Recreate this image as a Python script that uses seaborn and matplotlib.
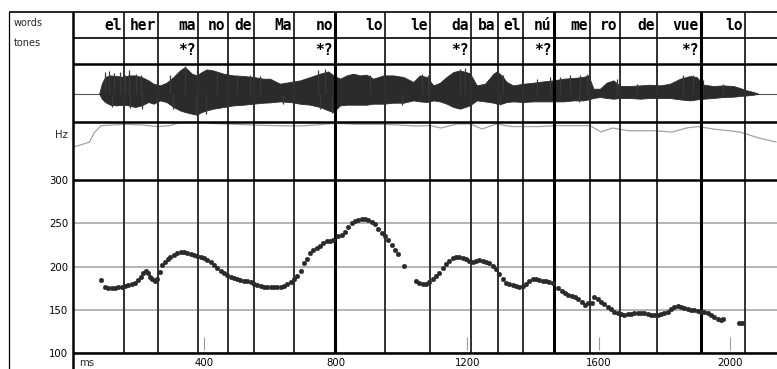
import matplotlib
matplotlib.use("Agg")
import matplotlib.pyplot as plt
from matplotlib.lines import Line2D
import pandas as pd
import seaborn as sns

sns.set_style("white")
plt.rcParams["font.family"] = ["DejaVu Sans"]

# ---------------- data ----------------
words = ["el", "her", "ma", "no", "de", "Ma", "no", "lo", "le", "da", "ba",
         "el", "nú", "me", "ro", "de", "vue", "lo"]
word_ends = [156, 260, 381, 471, 552, 673, 798, 949, 1086, 1211, 1294,
             1371, 1464, 1575, 1664, 1777, 1911, 2046]
major_bounds = [798, 1464, 1911]
tone_labels = ["*?", "*?", "*?", "*?", "*?"]
tone_ends = [381, 798, 1211, 1464, 1911]

f0_ms = [86, 98, 108, 118, 128, 138, 148, 158, 169, 179, 189, 199, 207, 214, 221,
         228, 235, 242, 250, 257, 265, 272, 280, 288, 297, 308, 318, 328, 338, 348,
         358, 368, 379, 389, 399, 409, 419, 429, 440, 450, 460, 470, 480, 490, 500,
         510, 521, 531, 541, 551, 561, 571, 581, 592, 602, 612, 622, 632, 642, 652,
         663, 673, 683, 693, 703, 711, 721, 732, 742, 752, 762, 772, 782, 793,
         808, 818, 828, 838, 848, 858, 869, 879, 889, 899, 909, 919, 930, 940, 950,
         960, 970, 980, 990, 1008,
         1044, 1054, 1064, 1075, 1085, 1095, 1105, 1115, 1125, 1135, 1146, 1156, 1166,
         1176, 1186, 1196, 1206, 1217, 1227, 1237, 1247, 1257, 1267, 1277, 1288, 1298,
         1308, 1318, 1328, 1338, 1348, 1359, 1369, 1379, 1389, 1399, 1409, 1419, 1430,
         1440, 1450, 1460,
         1477, 1487, 1498, 1508, 1518, 1528, 1538, 1548, 1558, 1569, 1579, 1587, 1597,
         1607, 1617, 1627, 1638, 1648, 1658, 1668, 1678, 1688, 1698, 1709, 1719, 1729,
         1739, 1749, 1759, 1769, 1780, 1790, 1800, 1810, 1820, 1830, 1840, 1851, 1861,
         1871, 1881, 1891, 1901, 1911, 1922, 1932, 1942, 1952, 1962, 1972, 1979,
         2028, 2035]
f0_hz = [184.6, 177.0, 175.8, 175.0, 175.8, 176.2, 177.0, 177.7, 178.9, 180.0, 181.6,
         184.6, 187.7, 192.3, 194.6, 193.0, 187.7, 185.4, 183.0, 185.4, 193.9, 201.5,
         205.8, 208.4, 211.5, 213.8, 216.0, 216.9, 216.9, 216.0, 214.6, 213.4, 212.7,
         211.5, 210.0, 207.7, 205.0, 201.5, 198.0, 195.0, 192.3, 190.4, 188.5, 187.3,
         186.2, 185.0, 183.9, 183.1, 182.0, 180.0, 178.5, 177.3, 176.6, 176.2, 176.2,
         176.2, 176.2, 176.6, 177.7, 180.0, 182.3, 185.4, 189.2, 195.4, 204.6, 209.2,
         215.4, 219.2, 221.5, 223.8, 227.6, 229.2, 229.6, 230.7,
         234.6, 236.5, 240.3, 245.3, 249.9, 252.2, 253.8, 254.5, 254.5, 253.8, 251.8,
         248.8, 243.0, 239.2, 235.3, 230.7, 225.0, 219.2, 214.6, 200.8,
         183.9, 180.8, 179.6, 180.0, 182.7, 185.8, 189.2, 193.1, 198.0, 203.0, 206.9,
         209.6, 210.8, 211.5, 210.0, 208.4, 206.9, 205.4, 206.9, 207.7, 206.5, 205.4,
         203.8, 200.8, 196.9, 191.6, 185.4, 181.6, 180.0, 178.9, 177.7, 177.0, 177.3,
         180.0, 183.1, 186.2, 186.2, 184.6, 183.9, 183.1, 182.3, 180.8,
         175.0, 172.4, 170.0, 167.7, 166.2, 164.7, 162.4, 159.3, 156.2, 157.8, 158.5,
         164.7, 162.4, 159.7, 157.0, 153.9, 150.8, 148.2, 146.2, 145.1, 144.7, 145.1,
         145.9, 146.2, 147.0, 147.0, 146.2, 145.1, 144.3, 144.3, 144.3, 145.1, 146.2,
         147.8, 150.8, 153.1, 154.7, 153.9, 152.0, 150.8, 150.0, 150.0, 149.3, 148.2,
         147.8, 147.0, 144.3, 141.6, 139.3, 138.6, 140.0,
         134.7, 134.7]

wave_ms = [80, 88, 98, 113, 133, 154, 169, 189, 209, 230, 245, 265, 285, 306, 326,
           341, 362, 377, 392, 407, 427, 458, 488, 519, 549, 580, 600, 630, 661, 691,
           722, 752, 777, 793, 813, 833, 853, 874, 894, 914, 945, 975, 1006, 1036,
           1056, 1077, 1097, 1117, 1137, 1158, 1178, 1208, 1229, 1254, 1280, 1290,
           1305, 1320, 1340, 1371, 1401, 1432, 1462, 1493, 1523, 1553, 1569, 1584,
           1604, 1624, 1645, 1665, 1695, 1726, 1756, 1787, 1817, 1848, 1878, 1898,
           1919, 1949, 1979, 2010, 2030, 2051, 2071, 2086]
wave_top = [0, 10, 16.7, 18.3, 17.7, 16.7, 18.3, 18.3, 16.7, 13.3, 10, 8.3, 11, 16.7,
            23.3, 26.7, 20, 18.3, 21.7, 24.3, 23.3, 20, 18.3, 17.7, 16.7, 15, 15, 10,
            11.7, 13.3, 16.7, 20, 22.3, 18.3, 15, 18.3, 20, 18.3, 19, 15, 18.3, 18.3,
            16.7, 11.7, 18.3, 16.7, 8.3, 11, 16.7, 21.7, 23.3, 20.5, 8.3, 10, 20, 22.3,
            18.3, 11.7, 8.3, 10, 11, 12.3, 13.3, 15, 15.7, 16.7, 18.3, 5, 5, 11, 13.3,
            7.7, 7.7, 8.3, 9, 8.3, 10, 15, 17.7, 16.7, 9, 7.7, 8.3, 7.7, 5.7, 3.3, 1.7, 0]
wave_bot = [0, -5, -8.3, -11, -11.7, -11, -11.7, -13.3, -11.7, -8.3, -10, -6.7, -8.3,
            -13.3, -16.7, -18.3, -20, -21, -18.3, -16.7, -15, -13.3, -11.7, -11, -10,
            -9, -8.7, -7.7, -8.3, -10, -11, -13.3, -16.7, -18.3, -11.7, -11, -11, -11,
            -11, -10, -10, -9, -9, -6.7, -7.7, -8.3, -6.7, -7.7, -10, -13.3, -15, -11.7,
            -6.7, -7.7, -9, -10, -10, -8.3, -7.7, -8.3, -7.7, -7.7, -7.7, -7.7, -6.7,
            -6.7, -5.7, -4.3, -3.3, -4.3, -5, -4.3, -4.3, -5, -4.3, -4.3, -4.3, -5.7,
            -6.7, -5.7, -5, -4.3, -3.3, -3, -2.3, -1.7, -1, 0]

# individual waveform peaks that stick out of the envelope
spike_ms = [98, 111, 125, 143, 159, 172, 192, 206, 257, 296, 341, 377, 438, 468,
            498, 539, 569, 747, 767, 904, 1061, 1082, 1178, 1193, 1310, 1366, 1411,
            1452, 1482, 1513, 1543, 1564, 1655, 1716, 1777, 1858, 1888, 1919, 1979]
spike_top = [21.7, 22.3, 21, 21.7, 19, 23.3, 20, 19, 13.3, 18.3, 27.7, 23.3, 21.7,
             21.7, 19, 19, 17.7, 23.3, 25, 19, 20, 18.3, 25, 25.7, 18.3, 15, 15,
             16.7, 16.7, 18.3, 19, 20, 15, 10, 11, 18.3, 19, 13.3, 10]
dip_ms = [120, 175, 210, 255, 306, 375, 405, 640, 752, 790, 1000, 1300, 1540]
dip_bot = [-13, -14.3, -15, -11.7, -15, -21.7, -20, -10, -15, -19, -11, -11, -8.5]

int_ms = [2, 23, 51, 64, 86, 156, 210, 259, 296, 329, 378, 433, 545, 615, 682, 740,
          795, 865, 935, 989, 1044, 1087, 1120, 1169, 1211, 1245, 1288, 1336, 1418,
          1476, 1574, 1607, 1642, 1691, 1767, 1823, 1872, 1905, 1948, 2030, 2087, 2140]
int_val = [55.8, 59.3, 64.6, 80.5, 93.6, 95.9, 94.7, 91.9, 93.6, 100, 100, 97.2,
           94.7, 93.6, 92.9, 94.7, 97.7, 95.9, 95.9, 94.7, 92.9, 93.6, 89.4, 96.5,
           96.5, 87.6, 96.5, 91.9, 91.9, 93.6, 93.6, 82.3, 89.4, 84.6, 84.6, 82.3,
           90, 91.9, 87.6, 82.3, 71.7, 64.6]

x_ticks = [400, 800, 1200, 1600, 2000]
y_ticks = [100, 150, 200, 250, 300]

# ---------------- layout ----------------
W, H = 777, 369
fig = plt.figure(figsize=(W / 100, H / 100), dpi=100)
X0 = 72.9
XMAX = (W - X0) / 0.3286


def add(y0, y1):
    ax = fig.add_axes([X0 / W, 1 - y1 / H, (W - X0) / W, (y1 - y0) / H])
    ax.set_xlim(0, XMAX)
    for s in ax.spines.values():
        s.set_visible(False)
    ax.set_facecolor("white")
    return ax


ax_w = add(12, 38)
ax_t = add(38, 64)
ax_wave = add(64, 122)
ax_i = add(122, 179.7)
ax_f = add(179.7, 353.4)
panels = [ax_w, ax_t, ax_wave, ax_i, ax_f]
for ax in [ax_w, ax_t, ax_wave, ax_i]:
    ax.set_xticks([])
    ax.set_yticks([])

# boundaries
for ax in panels:
    for b in word_ends:
        if b in major_bounds:
            ax.axvline(b, color="black", lw=2.2, zorder=5)
        else:
            ax.axvline(b, color="#303030", lw=1.4, zorder=5)

# words tier
tr = ax_w.get_xaxis_transform()
for w, e in zip(words, word_ends):
    ax_w.text(e - 7, 0.3, w, transform=tr, ha="right", va="baseline",
              family="DejaVu Sans Mono", weight="bold", size=10.5, color="black")
ax_w.set_ylim(0, 1)

# tones tier
tr = ax_t.get_xaxis_transform()
for t, e in zip(tone_labels, tone_ends):
    ax_t.text(e - 8, 0.33, t, transform=tr, ha="right", va="baseline",
              family="DejaVu Sans Mono", weight="bold", size=10.5, color="black")

# waveform
ax_wave.set_ylim(-28.3, 29.7)
ax_wave.axhline(0, color="#555555", lw=0.8, zorder=1)
ax_wave.fill_between(wave_ms, wave_top, wave_bot, color="#2b2b2b", lw=0.6,
                     edgecolor="#2b2b2b", zorder=2)
ax_wave.vlines(spike_ms, 0, spike_top, color="#3a3a3a", lw=0.9, zorder=2)
ax_wave.vlines(dip_ms, dip_bot, 0, color="#3a3a3a", lw=0.9, zorder=2)

# intensity-like grey contour
df_i = pd.DataFrame({"ms": int_ms, "val": int_val})
sns.lineplot(data=df_i, x="ms", y="val", ax=ax_i, color="#a3a3a3", lw=0.9)
ax_i.set_ylim(-2.1, 100)
ax_i.set_xlim(0, XMAX)
ax_i.set_xlabel("")
ax_i.set_ylabel("")
ax_i.set_xticks([])
ax_i.set_yticks([])

# F0 panel
df_f = pd.DataFrame({"ms": f0_ms, "hz": f0_hz})
sns.scatterplot(data=df_f, x="ms", y="hz", ax=ax_f, s=11, color="#2a2a2a",
                edgecolor="#2a2a2a", linewidth=0.3, zorder=6)
ax_f.set_xlim(0, XMAX)
ax_f.set_ylim(100, 300)
ax_f.set_yticks(y_ticks)
ax_f.set_yticklabels([str(v) for v in y_ticks])
ax_f.set_xticks(x_ticks)
ax_f.set_xticklabels([str(v) for v in x_ticks])
ax_f.tick_params(axis="y", length=0, pad=3.2, labelsize=7.3, colors="black")
ax_f.tick_params(axis="x", length=0, pad=3.0, labelsize=7.3, colors="black")
ax_f.yaxis.grid(True, color="#a8a8a8", lw=1.2)
ax_f.xaxis.grid(False)
ax_f.set_axisbelow(True)
ax_f.set_xlabel("")
ax_f.set_ylabel("")
ax_f.vlines(x_ticks, 104, 119, color="#9a9a9a", lw=0.8, zorder=4)


# ---------------- frame lines (pixel coords) ----------------
def fline(xs, ys, lw, color="black"):
    fig.add_artist(Line2D([x / W for x in xs], [1 - y / H for y in ys],
                          transform=fig.transFigure, lw=lw, color=color,
                          solid_capstyle="butt", zorder=10))


fline([9, W], [12, 12], 1.2)
fline([X0, W], [38, 38], 1.2)
for yy in [64, 122, 179.7, 353.4]:
    fline([X0, W], [yy, yy], 1.8)
fline([9, 9], [12, H], 0.9)
fline([X0, X0], [12, H], 1.8)

# labels
fig.text(14 / W, 1 - 23.5 / H, "words", ha="left", va="center", size=7)
fig.text(14 / W, 1 - 43.5 / H, "tones", ha="left", va="center", size=7)
fig.text(68 / W, 1 - 135 / H, "Hz", ha="right", va="center", size=7.3)
fig.text(79 / W, 1 - 363 / H, "ms", ha="left", va="center", size=7.3)

fig.savefig("out.png", dpi=100)
